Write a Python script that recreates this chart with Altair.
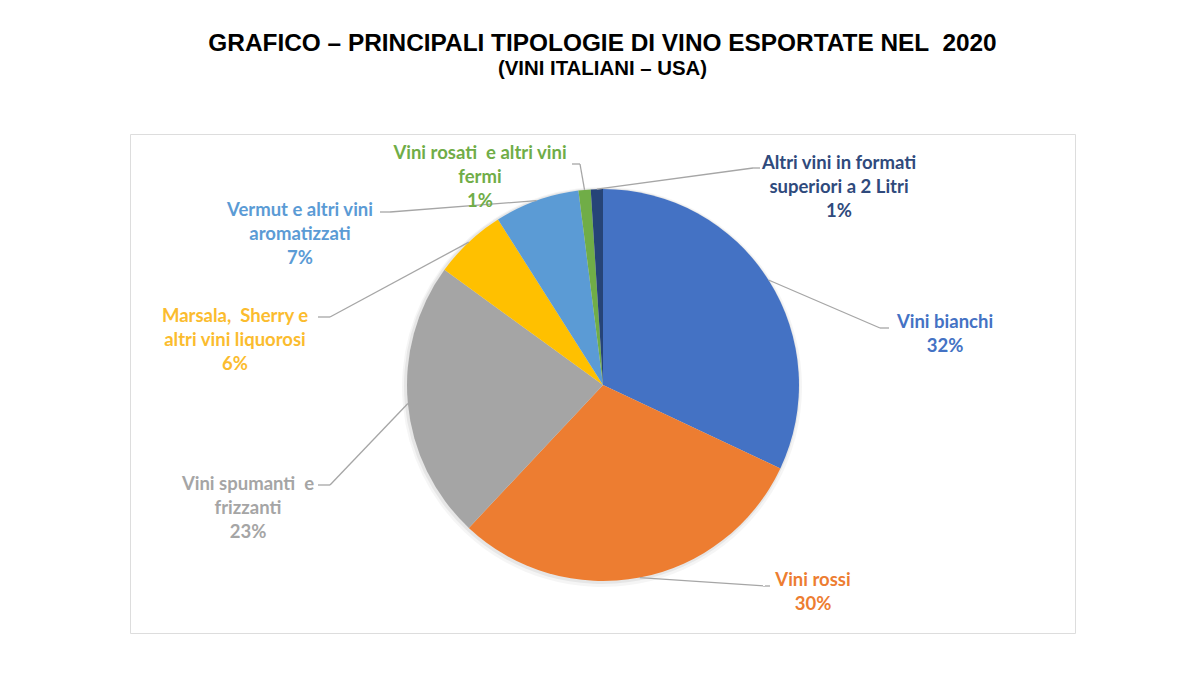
import altair as alt
import pandas as pd

# ---- data ----
categories = [
    "Vini bianchi",
    "Vini rossi",
    "Vini spumanti e frizzanti",
    "Marsala, Sherry e altri vini liquorosi",
    "Vermut e altri vini aromatizzati",
    "Vini rosati e altri vini fermi",
    "Altri vini in formati superiori a 2 Litri",
]
shares = [32, 30, 23, 6, 7, 1, 1]
NB = "\u00a0"
label_names = [
    "Vini bianchi",
    "Vini rossi",
    f"Vini spumanti {NB}e\nfrizzanti",
    f"Marsala, {NB}Sherry e\naltri vini liquorosi",
    "Vermut e altri vini\naromatizzati",
    f"Vini rosati {NB}e altri vini\nfermi",
    "Altri vini in formati\nsuperiori a 2 Litri",
]
colors = ["#4472C4", "#ED7D31", "#A5A5A5", "#FFC000", "#5B9BD5", "#70AD47", "#264478"]
text_colors = ["#4472C4", "#ED7D31", "#A5A5A5", "#FBBC2E", "#5B9BD5", "#70AD47", "#2F4A7C"]

# ---- layout (page pixel coordinates) ----
left, top, right, bottom = 130, 134, 1075, 633
cx, cy, R = 603, 385, 196
label_x = [945, 813, 248, 235, 300, 480, 839]
label_y = [322, 580, 484, 316, 210, 153, 163]   # centre of first text line
elbow_x = [880, 765, 330, 330, 390, 580, 753]
elbow_y = [328, 586, 485, 317, 212, 164, 168]
end_x = [889, 770, 318, 318, 380, 572, 760]
end_y = [328, 586, 485, 317, 212, 164, 168]

df = pd.DataFrame({
    "cat": categories,
    "share": shares,
    "i": list(range(len(categories))),
    "text": [f"{n}\n{s}%" for n, s in zip(label_names, shares)],
    "lx": label_x, "ly": label_y,
    "ex": elbow_x, "ey": elbow_y,
    "tx": end_x, "ty": end_y,
})

W = right - left
H = bottom - top
xs = alt.Scale(domain=[left, right], nice=False, zero=False)
ys = alt.Scale(domain=[top, bottom], nice=False, zero=False, reverse=True)
color = alt.Color("cat:N", scale=alt.Scale(domain=categories, range=colors), legend=None)

base = alt.Chart(df)

shadow1 = base.mark_arc(outerRadius=R + 4, color="#000000", opacity=0.04).encode(
    theta=alt.Theta("share:Q", stack=True),
    order=alt.Order("i:Q"),
    x=alt.value(cx - left - 1),
    y=alt.value(cy - top + 2),
)
shadow2 = base.mark_arc(outerRadius=R + 2, color="#000000", opacity=0.06).encode(
    theta=alt.Theta("share:Q", stack=True),
    order=alt.Order("i:Q"),
    x=alt.value(cx - left - 1),
    y=alt.value(cy - top + 1),
)

pie = base.mark_arc(outerRadius=R).encode(
    theta=alt.Theta("share:Q", stack=True),
    color=color,
    order=alt.Order("i:Q"),
    x=alt.value(cx - left),
    y=alt.value(cy - top),
)

# leader start point = slice mid-angle on the pie edge
lead = base.transform_joinaggregate(total="sum(share)").transform_window(
    cum="sum(share)", sort=[alt.SortField("i")]
).transform_calculate(
    mid="2*PI*(datum.cum - datum.share/2)/datum.total"
).transform_calculate(
    sx=f"{cx} + {R}*sin(datum.mid)",
    sy=f"{cy} - {R}*cos(datum.mid)",
)

rule1 = lead.mark_rule(color="#A6A6A6", strokeWidth=1.3).encode(
    x=alt.X("sx:Q", scale=xs, axis=None),
    y=alt.Y("sy:Q", scale=ys, axis=None),
    x2="ex:Q", y2="ey:Q",
)
rule2 = base.mark_rule(color="#A6A6A6", strokeWidth=1.3).encode(
    x=alt.X("ex:Q", scale=xs, axis=None),
    y=alt.Y("ey:Q", scale=ys, axis=None),
    x2="tx:Q", y2="ty:Q",
)

labels = base.mark_text(
    font="Lato", fontWeight="bold", fontSize=18.5, lineBreak="\n",
    lineHeight=24, align="center", baseline="middle",
).encode(
    x=alt.X("lx:Q", scale=xs, axis=None),
    y=alt.Y("ly:Q", scale=ys, axis=None),
    text="text:N",
    color=alt.Color("cat:N", scale=alt.Scale(domain=categories, range=text_colors), legend=None),
)

chart = alt.layer(shadow1, shadow2, pie, rule1, rule2, labels).properties(
    width=W, height=H,
    title=alt.TitleParams(
        text=f"GRAFICO – PRINCIPALI TIPOLOGIE DI VINO ESPORTATE NEL {NB}2020",
        subtitle="(VINI ITALIANI – USA)",
        font="Liberation Sans", fontSize=24.4, fontWeight="bold", color="#000000",
        subtitleFont="Liberation Sans", subtitleFontSize=20.4, subtitleFontWeight="bold",
        subtitleColor="#000000", subtitlePadding=2,
        anchor="middle", offset=54,
    ),
    autosize=alt.AutoSizeParams(type="none"),
    padding={"left": left, "top": top, "right": 1200 - right, "bottom": 694 - bottom},
).resolve_scale(color="independent").configure_view(
    stroke="#D9D9D9", strokeWidth=1.5
).configure(background="white")

chart.save("out.html", embed_options={"renderer": "svg", "actions": False})
